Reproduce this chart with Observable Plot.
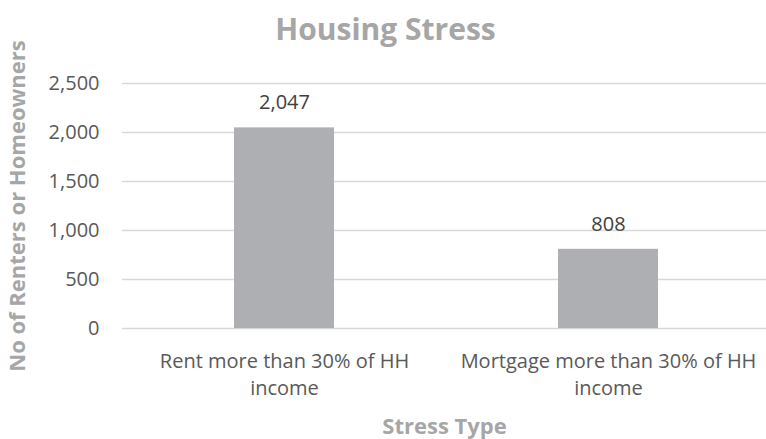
<!DOCTYPE html>
<html>
<head>
<meta charset="utf-8">
<script src="https://cdn.jsdelivr.net/npm/d3@7"></script>
<script src="https://cdn.jsdelivr.net/npm/@observablehq/plot@0.6"></script>
<style>
  html, body { margin: 0; padding: 0; background: #ffffff; }
  #chart svg { display: block; }
</style>
</head>
<body>
<div id="chart"></div>
<script>
const categories = ["Rent more than 30% of HH income", "Mortgage more than 30% of HH income"];
const values = [2047, 808];
const yTicks = [0, 500, 1000, 1500, 2000, 2500];
const chartTitle = "Housing Stress";
const xTitle = "Stress Type";
const yTitle = "No of Renters or Homeowners";

const data = categories.map((c, i) => ({cat: c, value: values[i]}));
const fmt = d3.format(",");

const chart = Plot.plot({
  width: 766,
  height: 439,
  marginLeft: 122,
  marginRight: 0,
  marginTop: 83,
  marginBottom: 111,
  style: {fontFamily: "'Open Sans', sans-serif", background: "#ffffff"},
  x: {domain: categories, range: [122, 770], paddingInner: 0.69, paddingOuter: 0.345, label: null},
  y: {domain: [0, 2500], label: null},
  marks: [
    Plot.ruleY(yTicks, {stroke: "#D9D9D9", strokeWidth: 1.5}),
    Plot.barY(data, {x: "cat", y: "value", fill: "#AEAFB2"}),
    Plot.text(data, {x: "cat", y: "value", text: d => fmt(d.value), dy: -25, fontSize: 20, fill: "#404040", lineAnchor: "middle"}),
    Plot.axisY({ticks: yTicks, tickSize: 0, tickPadding: 23, tickFormat: d => fmt(d), fontSize: 20, fill: "#595959", label: null}),
    Plot.axisX({tickSize: 0, tickPadding: 20, fontSize: 20, fill: "#595959", lineHeight: 1.35,
      tickFormat: d => d.replace(/ income$/, "\nincome"), label: null}),
    Plot.text([chartTitle], {frameAnchor: "top", dx: -59, dy: -53, fontSize: 30, fontWeight: "bold", fill: "#A6A6A6", lineAnchor: "middle"}),
    Plot.text([xTitle], {frameAnchor: "bottom", dy: 98, fontSize: 22, fontWeight: "bold", fill: "#A6A6A6", lineAnchor: "middle"}),
    Plot.text([yTitle], {frameAnchor: "left", dx: -105, rotate: -90, fontSize: 22, fontWeight: "bold", fill: "#A6A6A6", lineAnchor: "middle", textAnchor: "middle"})
  ]
});
document.getElementById("chart").appendChild(chart);
</script>
</body>
</html>
